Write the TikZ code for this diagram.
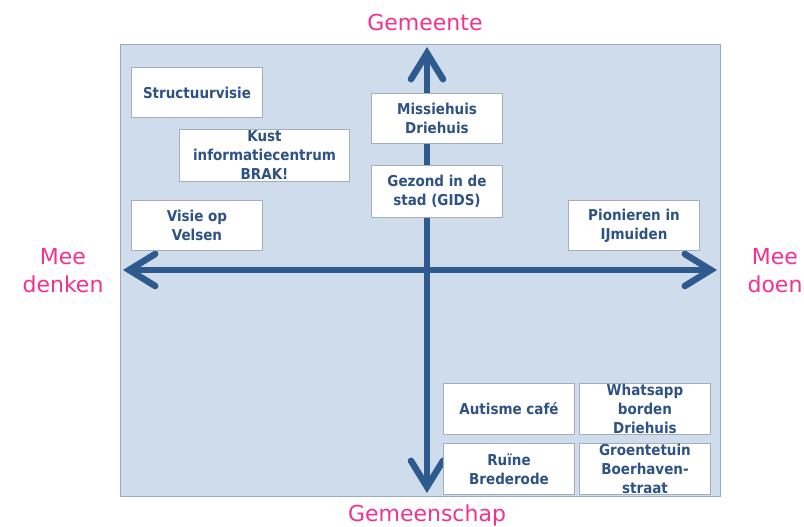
\documentclass[tikz,border=0pt]{standalone}
\usepackage{fontspec}
\setmainfont{DejaVu Sans}
\newfontfamily\boxfont{DejaVu Sans Condensed}
\usetikzlibrary{arrows.meta}
\definecolor{panel}{HTML}{CFDCEC}
\definecolor{panelline}{HTML}{9AAAC0}
\definecolor{axis}{HTML}{2E5A8E}
\definecolor{pinktext}{HTML}{F4318F}
\definecolor{boxtext}{HTML}{2F5285}
\definecolor{boxline}{HTML}{A3AEBE}
\tikzset{
  item/.style={draw=boxline, line width=1pt, fill=white, minimum width=131pt, minimum height=50pt,
    align=center, inner sep=0pt, text=boxtext, font=\boxfont\fontsize{15}{19}\selectfont\bfseries, anchor=north west},
  axislabel/.style={text=pinktext, font=\fontsize{22}{28}\selectfont, align=center},
  axisline/.style={draw=axis, line width=6.5pt, {Straight Barb[length=26pt,width=32pt,line cap=round]}-{Straight Barb[length=26pt,width=32pt,line cap=round]}}
}
\begin{document}
\begin{tikzpicture}[x=1pt,y=-1pt]
\useasboundingbox (0,0) rectangle (804,527);
\node[draw=panelline, line width=1pt, fill=panel, minimum width=600pt, minimum height=452pt, inner sep=0pt, anchor=north west] (panel) at (120,44) {};
\coordinate (top) at (427,47);
\coordinate (bottom) at (427,493);
\coordinate (left) at (123,270);
\coordinate (right) at (717,270);
\draw[axisline] (left) -- (right);
\draw[axisline] (bottom) -- (top);
\node[axislabel] (gem) at (425,22) {Gemeente};
\node[axislabel] (gemsch) at (427,515) {Gemeenschap};
\node[axislabel] (denken) at (63,271) {Mee\\denken};
\node[axislabel] (doen) at (775,271) {Mee\\doen};
\node[item] (structuur) at (131,67) {Structuurvisie};
\node[item, minimum width=170pt, minimum height=52pt] (kust) at (179,129) {Kust\\informatiecentrum\\BRAK!};
\node[item] (visie) at (131,200) {Visie op\\Velsen};
\node[item] (missie) at (371,93) {Missiehuis\\Driehuis};
\node[item, minimum height=52pt] (gids) at (371,165) {Gezond in de\\stad (GIDS)};
\node[item] (pionieren) at (568,200) {Pionieren in\\IJmuiden};
\node[item, minimum height=51pt] (autisme) at (443,383) {Autisme café};
\node[item, minimum height=51pt] (whatsapp) at (579,383) {Whatsapp\\borden\\Driehuis};
\node[item, minimum height=51pt] (ruine) at (443,443) {Ruïne\\Brederode};
\node[item, minimum height=51pt] (groente) at (579,443) {Groentetuin\\Boerhaven-\\straat};
\end{tikzpicture}
\end{document}
